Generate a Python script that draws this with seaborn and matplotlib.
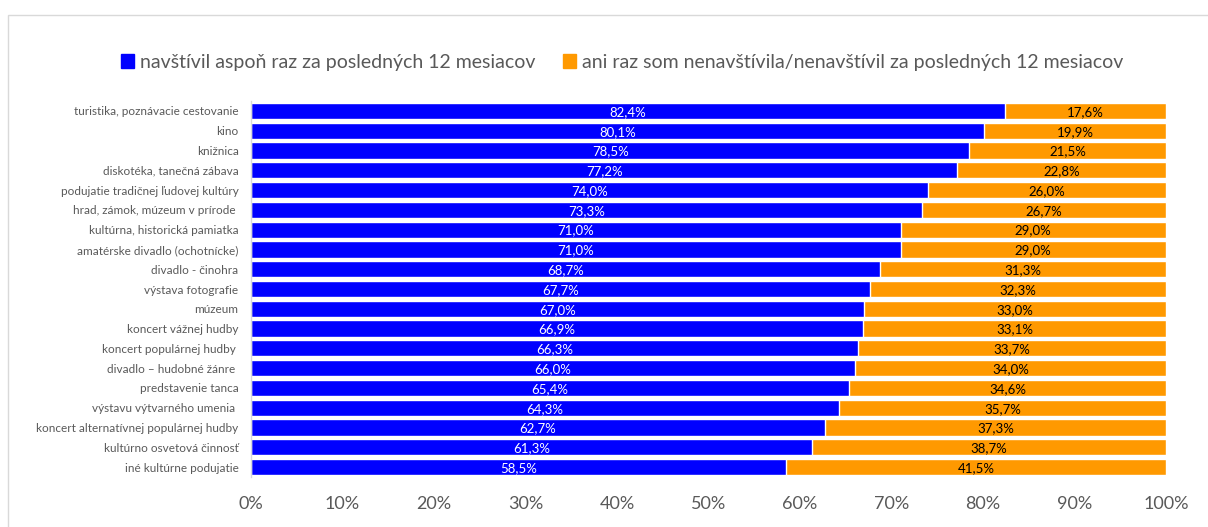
import seaborn as sns
import matplotlib.pyplot as plt
import matplotlib.patches as mpatches
from matplotlib.ticker import PercentFormatter
import pandas as pd
import numpy as np

categories = [
    "turistika, poznávacie cestovanie",
    "kino",
    "knižnica",
    "diskotéka, tanečná zábava",
    "podujatie tradičnej ľudovej kultúry",
    "hrad, zámok, múzeum v prírode ",
    "kultúrna, historická pamiatka",
    "amatérske divadlo (ochotnícke)",
    "divadlo - činohra",
    "výstava fotografie",
    "múzeum",
    "koncert vážnej hudby",
    "koncert populárnej hudby ",
    "divadlo – hudobné žánre ",
    "predstavenie tanca",
    "výstavu výtvarného umenia ",
    "koncert alternatívnej populárnej hudby",
    "kultúrno osvetová činnosť",
    "iné kultúrne podujatie",
]
visited = [82.4, 80.1, 78.5, 77.2, 74.0, 73.3, 71.0, 71.0, 68.7, 67.7,
           67.0, 66.9, 66.3, 66.0, 65.4, 64.3, 62.7, 61.3, 58.5]
not_visited = [17.6, 19.9, 21.5, 22.8, 26.0, 26.7, 29.0, 29.0, 31.3, 32.3,
               33.0, 33.1, 33.7, 34.0, 34.6, 35.7, 37.3, 38.7, 41.5]
series_names = ["navštívil aspoň raz za posledných 12 mesiacov",
                "ani raz som nenavštívila/nenavštívil za posledných 12 mesiacov"]

blue = "#0000FF"
orange = "#FF9900"

df = pd.DataFrame({"category": categories,
                   "visited": visited,
                   "not_visited": not_visited})
df["total"] = df["visited"] + df["not_visited"]

sns.set_style("white")
plt.rcParams["font.family"] = ["Lato", "DejaVu Sans"]

fig = plt.figure(figsize=(12.08, 5.27), dpi=100)
ax = fig.add_axes([0.2078, 0.0949, 0.7574, 0.7134])

sns.barplot(data=df, x="total", y="category", color=orange, width=0.82,
            saturation=1, ax=ax, orient="h")
sns.barplot(data=df, x="visited", y="category", color=blue, width=0.82,
            saturation=1, ax=ax, orient="h")

# data labels
cont_orange, cont_blue = ax.containers[0], ax.containers[1]
for i, (rb, ro) in enumerate(zip(cont_blue, cont_orange)):
    yc = rb.get_y() + rb.get_height() / 2
    ax.text(visited[i] / 2, yc + 0.05, f"{visited[i]:.1f}%".replace(".", ","),
            ha="center", va="center", color="white", fontsize=9.5)
    ax.text(visited[i] + not_visited[i] / 2, yc + 0.05,
            f"{not_visited[i]:.1f}%".replace(".", ","),
            ha="center", va="center", color="black", fontsize=9.5)

ax.set_xlim(0, 100)
ax.set_xticks(np.arange(0, 101, 10))
ax.xaxis.set_major_formatter(PercentFormatter(decimals=0))
ax.set_xlabel("")
ax.set_ylabel("")
ax.tick_params(axis="x", labelsize=13, colors="#595959", length=0, pad=14)
ax.tick_params(axis="y", labelsize=8.5, colors="#595959", length=0, pad=9)
for s in ["top", "right", "bottom"]:
    ax.spines[s].set_visible(False)
ax.spines["left"].set_color("#D9D9D9")
ax.spines["left"].set_linewidth(1)

handles = [mpatches.Patch(color=blue, label=series_names[0]),
           mpatches.Patch(color=orange, label=series_names[1])]
fig.legend(handles=handles, loc="center", bbox_to_anchor=(0.515, 0.882),
           ncol=2, frameon=False, fontsize=14, labelcolor="#595959",
           handlelength=0.7, handleheight=0.7, handletextpad=0.3,
           columnspacing=1.4)

# chart border
fig.patches.append(mpatches.Rectangle((8 / 1208, -0.05), 1.2, 1 - 15 / 527 + 0.05,
                                      transform=fig.transFigure, fill=False,
                                      edgecolor="#D9D9D9", linewidth=1))

fig.savefig("out.png", dpi=100)
plt.close(fig)
